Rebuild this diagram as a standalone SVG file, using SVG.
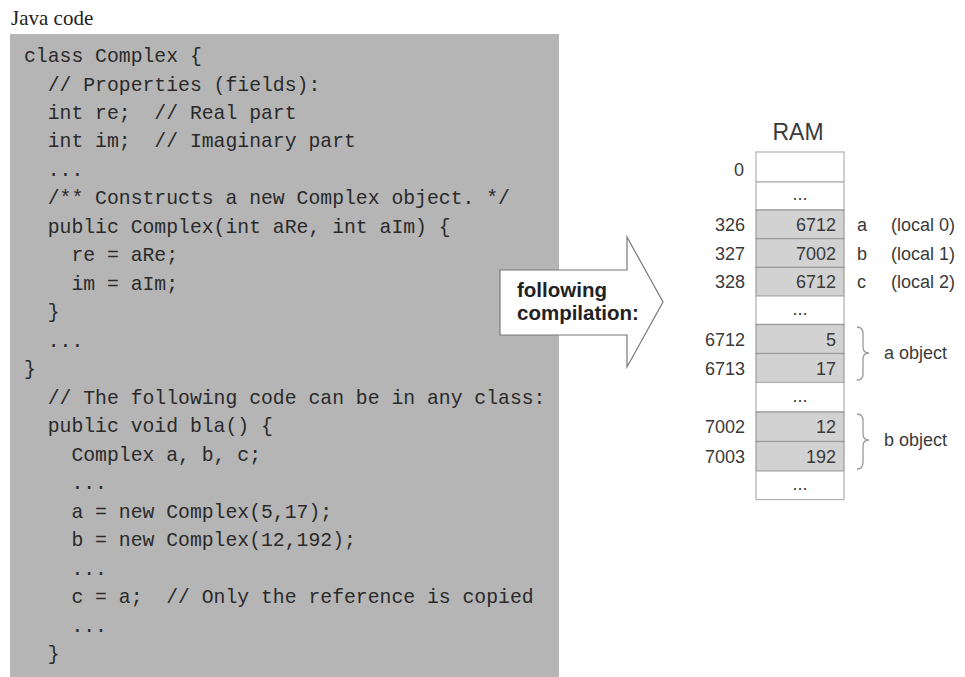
<svg xmlns="http://www.w3.org/2000/svg" width="965" height="677" viewBox="0 0 965 677">
<style>
.code{font-family:"Liberation Mono","Courier New",monospace;font-size:19.75px;fill:#2a2a2a;white-space:pre}
.sans{font-family:"Liberation Sans",Arial,sans-serif;font-size:18px;fill:#3a3a3a}
.r{text-anchor:end}
.mid{text-anchor:middle}
.gcell{fill:#d2d2d2;stroke:#9a9a9a;stroke-width:1.2}
.wcell{fill:#ffffff;stroke:#b0b0b0;stroke-width:1.2}
.brace{fill:none;stroke:#9a9a9a;stroke-width:1.3}
.arrowtxt{font-family:"Liberation Sans",Arial,sans-serif;font-size:20.5px;font-weight:bold;fill:#222}
</style>
<rect x="0" y="0" width="965" height="677" fill="#ffffff"/>
<text x="11" y="25" font-family="Liberation Serif,'Times New Roman',serif" font-size="21" fill="#222">Java code</text>
<g id="code">
<rect x="10" y="34" width="549" height="643" fill="#b5b5b5"/>
<text class="code" x="24" y="62">class Complex {</text>
<text class="code" x="47.7" y="90.5">// Properties (fields):</text>
<text class="code" x="47.7" y="119">int re;  // Real part</text>
<text class="code" x="47.7" y="147.4">int im;  // Imaginary part</text>
<text class="code" x="47.7" y="175.9">...</text>
<text class="code" x="47.7" y="204.4">/** Constructs a new Complex object. */</text>
<text class="code" x="47.7" y="232.9">public Complex(int aRe, int aIm) {</text>
<text class="code" x="71.4" y="261.4">re = aRe;</text>
<text class="code" x="71.4" y="289.8">im = aIm;</text>
<text class="code" x="47.7" y="318.3">}</text>
<text class="code" x="47.7" y="346.8">...</text>
<text class="code" x="24" y="375.3">}</text>
<text class="code" x="47.7" y="403.8">// The following code can be in any class:</text>
<text class="code" x="47.7" y="432.2">public void bla() {</text>
<text class="code" x="71.4" y="460.7">Complex a, b, c;</text>
<text class="code" x="71.4" y="489.2">...</text>
<text class="code" x="71.4" y="517.7">a = new Complex(5,17);</text>
<text class="code" x="71.4" y="546.2">b = new Complex(12,192);</text>
<text class="code" x="71.4" y="574.6">...</text>
<text class="code" x="71.4" y="603.1">c = a;  // Only the reference is copied</text>
<text class="code" x="71.4" y="631.6">...</text>
<text class="code" x="47.7" y="660.1">}</text>
</g>
<g id="arrow">
<polygon points="500,270 627,270 627,237 663,302 627,367 627,335 500,335" fill="#ffffff" stroke="#777" stroke-width="1.2"/>
<text class="arrowtxt" x="517" y="297">following</text>
<text class="arrowtxt" x="517" y="320">compilation:</text>
</g>
<g id="ram">
<text class="sans mid" x="798" y="140" style="font-size:23px">RAM</text>
<rect class="wcell" x="756" y="152" width="88" height="30"/>
<rect class="wcell" x="756" y="182" width="88" height="28"/>
<rect class="gcell" x="756" y="210" width="88" height="28.7"/>
<rect class="gcell" x="756" y="238.7" width="88" height="28.7"/>
<rect class="gcell" x="756" y="267.4" width="88" height="28.7"/>
<rect class="wcell" x="756" y="296" width="88" height="28.5"/>
<rect class="gcell" x="756" y="324.5" width="88" height="29"/>
<rect class="gcell" x="756" y="353.5" width="88" height="29"/>
<rect class="wcell" x="756" y="382.5" width="88" height="29.5"/>
<rect class="gcell" x="756" y="412" width="88" height="29.5"/>
<rect class="gcell" x="756" y="441.5" width="88" height="29.5"/>
<rect class="wcell" x="756" y="471" width="88" height="28.5"/>
<text class="sans r" x="744" y="176">0</text>
<text class="sans mid" x="800" y="200">...</text>
<text class="sans r" x="745" y="231">326</text>
<text class="sans r" x="836" y="231">6712</text>
<text class="sans" x="857" y="231">a</text>
<text class="sans" x="891" y="231">(local 0)</text>
<text class="sans r" x="745" y="259.5">327</text>
<text class="sans r" x="836" y="259.5">7002</text>
<text class="sans" x="857" y="259.5">b</text>
<text class="sans" x="891" y="259.5">(local 1)</text>
<text class="sans r" x="745" y="288">328</text>
<text class="sans r" x="836" y="288">6712</text>
<text class="sans" x="857" y="288">c</text>
<text class="sans" x="891" y="288">(local 2)</text>
<text class="sans mid" x="800" y="315">...</text>
<text class="sans r" x="745" y="345.5">6712</text>
<text class="sans r" x="836" y="345.5">5</text>
<text class="sans r" x="745" y="374.5">6713</text>
<text class="sans r" x="836" y="374.5">17</text>
<text class="sans mid" x="800" y="402">...</text>
<text class="sans r" x="745" y="433">7002</text>
<text class="sans r" x="836" y="433">12</text>
<text class="sans r" x="745" y="462.5">7003</text>
<text class="sans r" x="836" y="462.5">192</text>
<text class="sans mid" x="800" y="490">...</text>
<path class="brace" d="M857,327 Q863,327 863,334 L863,347 Q863,353 869,353 Q863,353 863,359 L863,374 Q863,380 857,380"/>
<text class="sans" x="884" y="359">a object</text>
<path class="brace" d="M857,414 Q863,414 863,421 L863,434 Q863,440 869,440 Q863,440 863,446 L863,462 Q863,469 857,469"/>
<text class="sans" x="884" y="446">b object</text>
</g>
</svg>
